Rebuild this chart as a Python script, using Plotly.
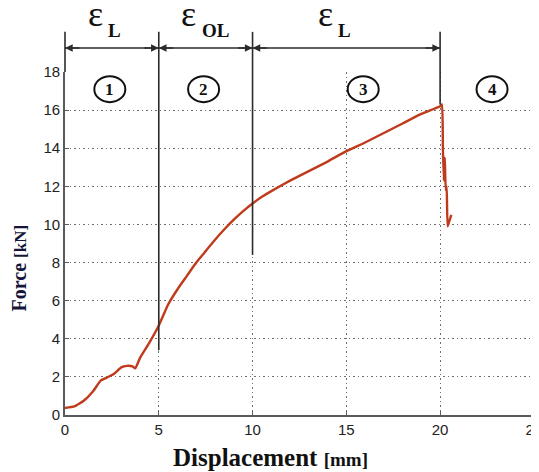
import plotly.graph_objects as go

# ---- data ----
displacement = [0.0, 0.5, 1.0, 1.5, 1.9, 2.2, 2.6, 3.0, 3.3, 3.6, 3.75, 4.0, 4.5, 5.0,
                5.5, 6.0, 6.5, 7.0, 7.5, 8.0, 8.5, 9.0, 9.5, 10.0, 10.5, 11.0, 12.0, 13.0, 14.0, 15.0,
                16.0, 17.0, 18.0, 19.0, 20.0, 20.1, 20.15, 20.2, 20.25, 20.3, 20.35, 20.4, 20.5, 20.6]
force = [0.37, 0.45, 0.75, 1.25, 1.8, 1.95, 2.15, 2.5, 2.58, 2.55, 2.45, 3.0, 3.8, 4.7,
         5.8, 6.6, 7.3, 8.0, 8.6, 9.2, 9.75, 10.25, 10.7, 11.1, 11.45, 11.75, 12.3, 12.8, 13.3, 13.85,
         14.3, 14.8, 15.3, 15.8, 16.2, 16.3, 14.0, 12.3, 13.5, 11.8, 12.0, 9.9, 10.2, 10.5]

x_ticks = [0, 5, 10, 15, 20, 25]
y_ticks = [0, 2, 4, 6, 8, 10, 12, 14, 16, 18]
stage_bounds = [0, 5, 10, 20]               # mm
stage_line_bottom = [None, 3.4, 8.4, 16.3]  # kN where the divider lines end
stage_numbers = ["1", "2", "3", "4"]
stage_number_x = [2.39, 7.39, 15.9, 22.77]
stage_number_y = 17.1
eps_labels = [("ε", "L"), ("ε", "OL"), ("ε", "L")]
eps_x = [1.6, 6.6, 13.9]      # mm, position of the epsilon
sub_x = [2.65, 8.0, 14.9]     # mm, position of the subscript

X_RANGE = [0, 25.06]
Y_RANGE = [0, 18]

fig = go.Figure()
fig.add_trace(go.Scatter(x=displacement, y=force, mode="lines",
                         line=dict(color="#c03a1c", width=2.4, shape="spline", smoothing=0.4),
                         hoverinfo="skip"))

def px(v):
    return (v - X_RANGE[0]) / (X_RANGE[1] - X_RANGE[0])

def py(v):
    return (v - Y_RANGE[0]) / (Y_RANGE[1] - Y_RANGE[0])

shapes = []
annotations = []
top = 1.117
arrow_y = 1.07
line_col = "#2b2b2b"
for b, bottom in zip(stage_bounds, stage_line_bottom):
    y0 = 1.0 if bottom is None else py(bottom)
    shapes.append(dict(type="line", xref="paper", yref="paper", x0=px(b), x1=px(b), y0=y0, y1=top,
                       line=dict(color=line_col, width=1.6)))
shapes.append(dict(type="line", xref="paper", yref="paper", x0=px(stage_bounds[0]), x1=px(stage_bounds[-1]),
                   y0=arrow_y, y1=arrow_y, line=dict(color=line_col, width=1.4)))

# arrowheads at divider lines
for i, b in enumerate(stage_bounds):
    dirs = []
    if i > 0:
        dirs.append(-16)   # arrow from the left
    if i < len(stage_bounds) - 1:
        dirs.append(16)    # arrow from the right
    for d in dirs:
        annotations.append(dict(x=px(b), y=arrow_y, xref="paper", yref="paper", text="",
                                showarrow=True, ax=d, ay=0, arrowhead=2, arrowsize=1.1,
                                arrowwidth=1.4, arrowcolor=line_col, standoff=0))

# epsilon labels
for (e, s), ex, sx in zip(eps_labels, eps_x, sub_x):
    annotations.append(dict(x=px(ex), y=1.168, xref="paper", yref="paper", text=e, showarrow=False,
                            font=dict(family="Liberation Serif", size=36, color="#111"),
                            xanchor="center", yanchor="middle"))
    annotations.append(dict(x=px(sx), y=1.12, xref="paper", yref="paper", text="<b>" + s + "</b>",
                            showarrow=False, font=dict(family="Liberation Serif", size=19, color="#111"),
                            xanchor="center", yanchor="middle"))

# circled stage numbers
for n, sx in zip(stage_numbers, stage_number_x):
    shapes.append(dict(type="circle", xref="x", yref="y", xsizemode="pixel", ysizemode="pixel",
                       xanchor=sx, yanchor=stage_number_y, x0=-15.5, x1=15.5, y0=-13, y1=13,
                       line=dict(color="#111", width=2), fillcolor="white"))
    annotations.append(dict(x=sx, y=stage_number_y, xref="x", yref="y", text="<b>" + n + "</b>",
                            showarrow=False, font=dict(family="Liberation Serif", size=17, color="#111")))

# axis titles
annotations.append(dict(x=0.438, y=-0.125, xref="paper", yref="paper",
                        text="<b>Displacement</b> <b><span style='font-size:19px'>[mm]</span></b>",
                        showarrow=False, font=dict(family="Liberation Serif", size=25, color="#111"),
                        xanchor="center", yanchor="middle"))
annotations.append(dict(x=-0.098, y=0.43, xref="paper", yref="paper",
                        text="<b>Force</b> <b><span style='font-size:17px'>[kN]</span></b>",
                        showarrow=False, textangle=-90,
                        font=dict(family="Liberation Serif", size=20, color="#15153a"),
                        xanchor="center", yanchor="middle"))

axis_common = dict(showgrid=True, gridcolor="#6f6f6f", gridwidth=1, griddash="1.5px,3px",
                   showline=True, linecolor="#5a5a5a", linewidth=1.8,
                   ticks="inside", ticklen=4, tickcolor="#5a5a5a",
                   tickfont=dict(family="Liberation Sans", size=15, color="#222"),
                   ticklabeloverflow="allow", automargin=False,
                   zeroline=False, fixedrange=True)

# the page body adds an 8px offset, so the figure is 8px smaller on each side
fig.update_layout(
    width=531, height=464,
    margin=dict(l=57, r=4, t=64, b=57, autoexpand=False),
    paper_bgcolor="white", plot_bgcolor="white",
    showlegend=False,
    xaxis=dict(range=X_RANGE, tickvals=x_ticks, ticktext=[str(t) for t in x_ticks], **axis_common),
    yaxis=dict(range=Y_RANGE, tickvals=y_ticks, ticktext=[str(t) for t in y_ticks], **axis_common),
    shapes=shapes,
    annotations=annotations,
)

fig.write_html("out.html")
